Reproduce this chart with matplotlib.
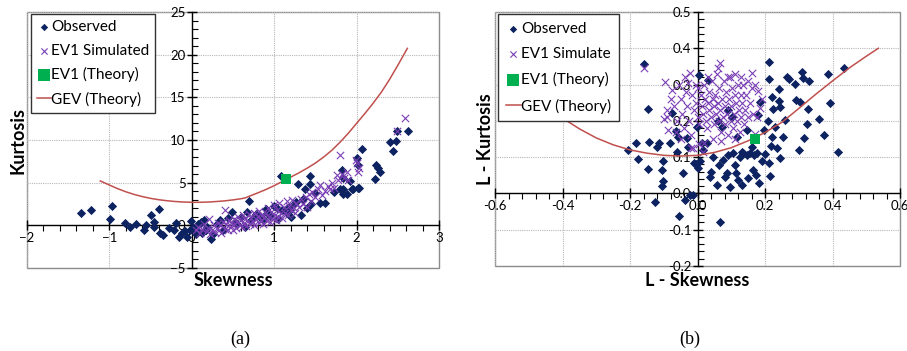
import matplotlib
matplotlib.use("Agg")
import matplotlib.pyplot as plt
from matplotlib.ticker import MultipleLocator, FormatStrFormatter
from matplotlib.patches import Rectangle

# ---------------- Data: panel (a) ----------------
obs_skew = [-1.345, -1.227, -0.964, -0.99, -0.81, -0.75, -0.68, -0.58, -0.55, -0.50,
            -0.46, -0.40, -0.46, -0.39, -0.35, -0.28, -0.22, -0.19, -0.16, -0.12,
            -0.08, -0.06, -0.02, -0.01, 0.06, 0.11, 0.15, 0.23, 0.17, 0.34,
            0.49, 0.52, 0.69, 0.67, 0.75, 0.83, 0.91, 1.03, 1.08, 1.15,
            1.23, 1.29, 1.33, 1.37, 1.43, 1.43, 1.45, 1.50, 1.56, 1.62,
            1.80, 1.82, 1.84, 1.92, 1.95, 2.02, 2.07, 2.01, 2.22, 2.24,
            2.26, 2.28, 2.40, 2.44, 2.48, 2.49, 2.62, 1.72, 1.88, 1.19,
            0.02, 0.05, 0.08, 0.12, 0.18, 0.26, 0.30, 0.38, 0.44, 0.55,
            0.60, 0.64, 0.72, 0.78, 0.86, 0.90, 0.95, 1.00, 1.05, 1.10,
            1.18, 1.20, 1.26, 1.35, 1.40, 1.84, 1.84, 2.02, 1.96, 2.03]
obs_kurt = [1.4, 1.76, 2.23, 0.7, 0.31, -0.16, 0.12, -0.55, 0.04, 1.2,
            0.43, 1.9, -0.16, -0.94, -1.17, -0.27, -0.55, 0.31, -1.4, -0.94,
            -0.63, -1.33, -0.55, 0.55, -0.7, 0.43, 0.63, -1.56, -0.55, 0.63,
            1.56, 0.43, 2.85, 1.56, 1.0, 1.0, 1.4, 2.0, 5.8, 1.4,
            2.4, 4.9, 1.2, 4.25, 5.8, 4.9, 2.5, 3.75, 2.6, 2.6,
            4.3, 6.5, 5.5, 5.2, 4.25, 4.4, 9.0, 7.85, 5.4, 7.1,
            6.7, 6.3, 9.8, 8.7, 9.9, 11.05, 11.05, 3.9, 3.7, 1.8,
            -0.3, -1.0, 0.1, -0.9, -0.2, -1.0, 0.2, -0.5, 0.9, 0.2,
            1.0, -0.2, 0.6, 1.3, 0.7, 1.9, 1.1, 2.3, 0.8, 1.8,
            2.2, 1.0, 2.7, 3.1, 2.0, 4.2, 3.7, 7.1, 4.25, 4.4]

sim_skew = [0.05, 0.08, 0.10, 0.12, 0.15, 0.18, 0.20, 0.21, 0.22, 0.25,
            0.27, 0.28, 0.30, 0.32, 0.33, 0.35, 0.36, 0.38, 0.40, 0.40,
            0.42, 0.44, 0.45, 0.47, 0.48, 0.50, 0.51, 0.52, 0.54, 0.55,
            0.56, 0.58, 0.60, 0.61, 0.62, 0.63, 0.65, 0.66, 0.68, 0.70,
            0.71, 0.72, 0.74, 0.75, 0.76, 0.78, 0.80, 0.81, 0.82, 0.84,
            0.85, 0.86, 0.88, 0.90, 0.91, 0.92, 0.94, 0.95, 0.96, 0.98,
            1.00, 1.01, 1.02, 1.04, 1.05, 1.06, 1.08, 1.10, 1.12, 1.13,
            1.15, 1.17, 1.18, 1.20, 1.22, 1.24, 1.25, 1.27, 1.30, 1.32,
            1.35, 1.38, 1.40, 1.42, 1.45, 1.46, 1.50, 1.53, 1.56, 1.58,
            1.62, 1.65, 1.68, 1.70, 1.73, 1.76, 1.78, 1.80, 1.82, 1.85,
            1.88, 1.90, 1.99, 2.00, 2.02, 2.03, 2.49, 2.59]
sim_kurt = [-0.6, -0.2, -0.9, -0.4, 0.1, -0.7, -0.3, 0.8, -1.0, -0.5,
            0.0, -0.8, -0.3, 0.3, -0.6, 0.0, -0.9, 0.4, 1.8, -0.4,
            0.1, -0.6, 0.6, -0.1, 0.3, -0.5, 0.8, 0.1, -0.3, 0.5,
            1.0, 0.0, 0.6, -0.2, 1.2, 0.3, 0.8, -0.1, 0.5, 1.3,
            0.2, 0.9, 0.4, 1.5, 0.0, 0.7, 1.1, 0.3, 1.7, 0.6,
            1.2, 0.2, 0.9, 1.5, 0.5, 2.0, 1.0, 0.4, 1.6, 0.8,
            2.4, 1.2, 0.6, 1.8, 1.0, 2.6, 1.4, 0.9, 2.1, 1.5,
            2.9, 1.2, 2.3, 1.8, 3.0, 2.0, 1.4, 2.6, 2.2, 3.1,
            2.5, 3.3, 2.2, 3.7, 2.9, 3.9, 3.3, 4.2, 4.7, 3.6,
            4.0, 4.6, 4.25, 5.0, 4.4, 5.9, 5.3, 8.3, 6.0, 5.6,
            6.3, 5.3, 7.7, 7.3, 6.3, 6.7, 11.0, 12.6]

ev1_skew = [1.14]
ev1_kurt = [5.4]

gev_skew = [-1.11, -1.0, -0.9, -0.8, -0.7, -0.6, -0.5, -0.4, -0.3, -0.2,
            -0.1, 0.0, 0.1, 0.2, 0.3, 0.4, 0.5, 0.6, 0.65, 0.7,
            0.8, 0.9, 1.0, 1.1, 1.2, 1.3, 1.4, 1.5, 1.6, 1.7,
            1.8, 1.9, 2.0, 2.1, 2.2, 2.3, 2.4, 2.5, 2.616]
gev_kurt = [5.2, 4.72, 4.3, 3.93, 3.62, 3.37, 3.16, 3.0, 2.88, 2.79,
            2.73, 2.70, 2.70, 2.73, 2.79, 2.87, 2.98, 3.12, 3.22, 3.42,
            3.8, 4.2, 4.65, 5.15, 5.65, 6.15, 6.7, 7.3, 8.0, 8.8,
            9.75, 10.8, 11.95, 13.1, 14.3, 15.6, 17.1, 18.75, 20.74]

# ---------------- Data: panel (b) ----------------
lobs_skew = [-0.16, -0.146, -0.207, -0.183, -0.177, -0.148, -0.144, -0.127, -0.119, -0.114,
             -0.106, -0.103, -0.101, -0.104, -0.081, -0.076, -0.063, -0.057, -0.062, -0.054,
             -0.042, -0.036, -0.032, -0.027, -0.022, -0.014, -0.011, -0.005, -0.002, 0.004,
             0.012, 0.027, 0.032, 0.037, 0.040, 0.047, 0.057, 0.063, 0.067, 0.072,
             0.077, 0.082, 0.087, 0.091, 0.096, 0.101, 0.104, 0.111, 0.114, 0.118,
             0.121, 0.126, 0.131, 0.136, 0.146, 0.15, 0.156, 0.16, 0.163, 0.167,
             0.173, 0.177, 0.18, 0.183, 0.185, 0.19, 0.197, 0.2, 0.21, 0.213,
             0.213, 0.212, 0.215, 0.218, 0.22, 0.222, 0.225, 0.23, 0.235, 0.24,
             0.242, 0.244, 0.244, 0.252, 0.259, 0.266, 0.272, 0.289, 0.291, 0.304,
             0.302, 0.31, 0.313, 0.316, 0.323, 0.326, 0.33, 0.361, 0.375, 0.386,
             0.393, 0.417, 0.435, 0.002, 0.007, 0.017, 0.132, 0.146, 0.06, 0.09]
lobs_kurt = [0.357, 0.234, 0.121, 0.138, 0.096, 0.066, 0.143, -0.023, 0.129, 0.14,
             0.065, 0.09, 0.034, 0.02, 0.138, 0.221, 0.173, 0.156, 0.115, -0.062,
             0.057, -0.018, 0.152, 0.129, -0.005, -0.005, 0.085, 0.08, 0.184, 0.326,
             0.138, 0.138, 0.313, 0.046, 0.06, 0.101, 0.023, 0.078, -0.08, 0.184,
             0.092, 0.046, 0.055, 0.106, 0.019, 0.212, 0.111, 0.078, 0.055, 0.156,
             0.037, 0.101, 0.115, 0.111, 0.175, 0.042, 0.111, 0.129, 0.065, 0.106,
             0.051, 0.111, 0.216, 0.028, 0.253, 0.088, 0.175, 0.109, 0.2, 0.363,
             0.314, 0.083, 0.048, 0.131, 0.265, 0.156, 0.234, 0.184, 0.125, 0.287,
             0.256, 0.239, 0.097, 0.156, 0.202, 0.322, 0.315, 0.301, 0.258, 0.253,
             0.12, 0.336, 0.317, 0.152, 0.19, 0.232, 0.31, 0.204, 0.161, 0.329,
             0.248, 0.115, 0.346, 0.069, 0.09, 0.12, 0.023, 0.106, 0.2, 0.23]

lsim_skew = [-0.158, -0.096, -0.076, -0.027, -0.022, -0.091, -0.086, -0.012, 0.017, 0.032,
             0.062, 0.067, 0.16, 0.17, 0.18, 0.19, 0.185, 0.175, 0.17, -0.1,
             -0.09, -0.07, -0.06, -0.05, -0.045, -0.04, -0.035, -0.03, -0.025, -0.02,
             -0.015, -0.01, -0.005, 0.0, 0.0, 0.005, 0.01, 0.012, 0.015, 0.02,
             0.022, 0.025, 0.028, 0.03, 0.033, 0.035, 0.04, 0.042, 0.045, 0.048,
             0.05, 0.052, 0.055, 0.058, 0.06, 0.063, 0.065, 0.068, 0.07, 0.072,
             0.075, 0.078, 0.08, 0.082, 0.085, 0.088, 0.09, 0.092, 0.095, 0.098,
             0.1, 0.103, 0.105, 0.108, 0.11, 0.112, 0.115, 0.118, 0.12, 0.123,
             0.125, 0.128, 0.13, 0.133, 0.135, 0.138, 0.14, 0.145, 0.15, 0.155,
             0.16, 0.165, -0.08, -0.065, -0.055, -0.048, -0.038, -0.02, 0.005, 0.02,
             0.045, 0.07, 0.09, 0.11, 0.13, 0.15, -0.005]
lsim_kurt = [0.345, 0.308, 0.285, 0.303, 0.331, 0.211, 0.175, 0.124, 0.115, 0.322,
             0.345, 0.36, 0.331, 0.30, 0.282, 0.26, 0.235, 0.21, 0.165, 0.205,
             0.23, 0.24, 0.2, 0.26, 0.22, 0.18, 0.28, 0.24, 0.2, 0.16,
             0.27, 0.23, 0.25, 0.21, 0.29, 0.19, 0.27, 0.24, 0.22, 0.30,
             0.26, 0.2, 0.18, 0.25, 0.28, 0.23, 0.21, 0.31, 0.26, 0.24,
             0.19, 0.27, 0.22, 0.33, 0.25, 0.2, 0.29, 0.23, 0.17, 0.26,
             0.21, 0.31, 0.24, 0.19, 0.28, 0.22, 0.16, 0.26, 0.32, 0.2,
             0.24, 0.29, 0.18, 0.22, 0.27, 0.15, 0.25, 0.2, 0.3, 0.23,
             0.17, 0.27, 0.21, 0.25, 0.3, 0.19, 0.23, 0.27, 0.21, 0.25,
             0.29, 0.22, 0.26, 0.17, 0.3, 0.15, 0.32, 0.125, 0.135, 0.14,
             0.15, 0.145, 0.32, 0.33, 0.32, 0.31, 0.3]

lev1_skew = [0.17]
lev1_kurt = [0.15]

lgev_skew = [-0.5, -0.45, -0.407, -0.35, -0.3, -0.25, -0.2, -0.15, -0.1, -0.05,
             0.0, 0.05, 0.1, 0.15, 0.2, 0.25, 0.3, 0.35, 0.4, 0.45,
             0.5, 0.536]
lgev_kurt = [0.285, 0.245, 0.212, 0.178, 0.153, 0.134, 0.12, 0.111, 0.105, 0.103,
             0.105, 0.113, 0.126, 0.145, 0.168, 0.196, 0.234, 0.273, 0.31, 0.346,
             0.378, 0.40]

labels_a = ["Observed", "EV1 Simulated", "EV1 (Theory)", "GEV (Theory)"]
labels_b = ["Observed", "EV1 Simulate", "EV1 (Theory)", "GEV (Theory)"]

# ---------------- Styling ----------------
FONT = "Lato"
NAVY = "#0d2260"
PURPLE = "#7a3fb5"
GREEN = "#00b050"
RED = "#c0504d"

W, H = 907, 351
fig = plt.figure(figsize=(W / 100, H / 100), dpi=100)


def px_axes(x0, y0, x1, y1):
    return fig.add_axes([x0 / W, 1 - y1 / H, (x1 - x0) / W, (y1 - y0) / H])


def style_axes(ax, xmaj, xmin, ymaj, ymin, fmt=None):
    for s in ["top", "right"]:
        ax.spines[s].set_visible(False)
    ax.spines["left"].set_position(("data", 0))
    ax.spines["bottom"].set_position(("data", 0))
    for s in ["left", "bottom"]:
        ax.spines[s].set_linewidth(1.0)
        ax.spines[s].set_color("black")
        ax.spines[s].set_zorder(1.5)
    ax.xaxis.set_major_locator(MultipleLocator(xmaj))
    ax.xaxis.set_minor_locator(MultipleLocator(xmin))
    ax.yaxis.set_major_locator(MultipleLocator(ymaj))
    ax.yaxis.set_minor_locator(MultipleLocator(ymin))
    if fmt:
        ax.xaxis.set_major_formatter(FormatStrFormatter(fmt))
        ax.yaxis.set_major_formatter(FormatStrFormatter(fmt))
    ax.tick_params(which="major", direction="inout", length=7, width=1, labelsize=9.5, pad=1)
    ax.tick_params(axis="x", which="minor", direction="out", length=4, width=0.8)
    ax.tick_params(axis="y", which="minor", direction="in", length=4, width=0.8)
    for lab in ax.get_xticklabels() + ax.get_yticklabels():
        lab.set_fontfamily(FONT)
    ax.grid(True, which="major", linestyle=(0, (1, 1)), color="#b8b8b8", linewidth=0.8)
    ax.set_axisbelow(True)
    ax.add_patch(Rectangle((0, 0), 1, 1, transform=ax.transAxes, fill=False,
                           edgecolor="#8c8c8c", linewidth=1.0, clip_on=False, zorder=0.5))


def draw(ax, ox, oy, sx, sy, ex, ey, gx, gy, labels, legend_kw):
    h1 = ax.scatter(ox, oy, marker="D", s=22, color=NAVY, linewidths=0, zorder=3)
    h2 = ax.scatter(sx, sy, marker="x", s=28, color=PURPLE, linewidths=0.8, zorder=4)
    h3 = ax.scatter(ex, ey, marker="s", s=55, color=GREEN, linewidths=0, zorder=6)
    h4, = ax.plot(gx, gy, color=RED, linewidth=1.1, zorder=5)
    leg = ax.legend([h1, h2, h3, h4], labels, loc="upper left",
                    frameon=True, fancybox=False, framealpha=1, edgecolor="#333333",
                    prop={"family": FONT, "size": 11}, borderaxespad=0,
                    handletextpad=0.0, **legend_kw)
    leg.get_frame().set_linewidth(1.0)
    leg.set_zorder(10)
    hs = leg.legend_handles
    hs[0].set_sizes([14])
    hs[1].set_sizes([20])
    hs[2].set_sizes([70])


# Panel (a)
axa = px_axes(27, 12, 439, 268)
axa.set_xlim(-2, 3)
axa.set_ylim(-5, 25)
style_axes(axa, 1, 0.2, 5, 1)
draw(axa, obs_skew, obs_kurt, sim_skew, sim_kurt, ev1_skew, ev1_kurt,
     gev_skew, gev_kurt, labels_a,
     dict(bbox_to_anchor=(4 / 412, 1 - 2 / 256), handlelength=0.9,
          labelspacing=0.62, borderpad=0.4))
fig.text(18 / W, 1 - 140 / H, "Kurtosis", rotation=90, ha="center", va="center",
         fontsize=13, fontweight="bold", family=FONT)
fig.text(233 / W, 1 - 281 / H, "Skewness", ha="center", va="center",
         fontsize=13, fontweight="bold", family=FONT)

# Panel (b)
axb = px_axes(495, 12, 900, 266)
axb.set_xlim(-0.6, 0.6)
axb.set_ylim(-0.2, 0.5)
style_axes(axb, 0.2, 0.04, 0.1, 0.02, fmt="%.1f")
draw(axb, lobs_skew, lobs_kurt, lsim_skew, lsim_kurt, lev1_skew, lev1_kurt,
     lgev_skew, lgev_kurt, labels_b,
     dict(bbox_to_anchor=(3 / 405, 1 - 2 / 254), handlelength=1.0,
          labelspacing=0.74, borderpad=0.5))
fig.text(485 / W, 1 - 139 / H, "L - Kurtosis", rotation=90, ha="center", va="center",
         fontsize=13, fontweight="bold", family=FONT)
fig.text(697 / W, 1 - 281 / H, "L - Skewness", ha="center", va="center",
         fontsize=13, fontweight="bold", family=FONT)

fig.text(240 / W, 1 - 339 / H, "(a)", ha="center", va="center", fontsize=13,
         family="Liberation Serif")
fig.text(690 / W, 1 - 339 / H, "(b)", ha="center", va="center", fontsize=13,
         family="Liberation Serif")

fig.savefig("out.png", dpi=100)
